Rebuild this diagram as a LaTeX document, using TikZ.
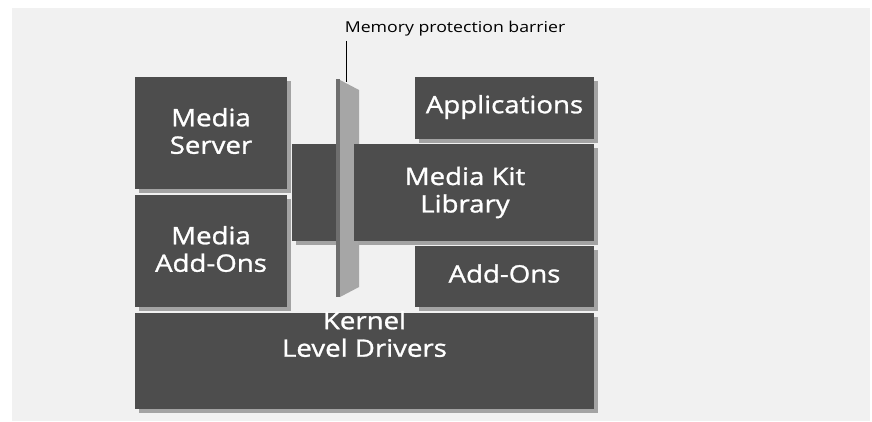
\documentclass[tikz,border=0pt]{standalone}
\usepackage{fontspec}
\setmainfont{Open Sans}
\newfontfamily\blockfont[FakeStretch=1.15, FakeBold=1.2]{Open Sans}
\newfontfamily\notefont[FakeStretch=1.18]{Open Sans}
\usetikzlibrary{shadows}
\definecolor{pagebg}{HTML}{F1F1F1}
\definecolor{boxfill}{HTML}{4D4D4D}
\definecolor{shadowgray}{HTML}{A3A3A3}
\definecolor{barrieredge}{HTML}{6E6E6E}
\definecolor{barrierface}{HTML}{A6A6A6}
\begin{document}
\begin{tikzpicture}[x=1pt,y=-1pt,
  layerbox/.style={rectangle, fill=boxfill, draw=none, inner sep=0pt,
    drop shadow={shadow xshift=4pt, shadow yshift=-4pt, fill=shadowgray, opacity=1}},
  boxtext/.style={text=white, align=center, inner sep=0pt,
    font=\blockfont\fontsize{24}{27.5}\selectfont},
  notetext/.style={text=black, inner sep=0pt, font=\notefont\fontsize{15}{18}\selectfont}]
\useasboundingbox (0,0) rectangle (872,421);
\fill[pagebg] (12,8) rectangle (870,421);

% layer blocks
\node[layerbox, minimum width=152pt, minimum height=112pt] (server)  at (211,133) {};
\node[layerbox, minimum width=152pt, minimum height=112pt] (mediaadd) at (211,251) {};
\node[layerbox, minimum width=179pt, minimum height=62pt]  (apps)    at (504.5,108) {};
\node[layerbox, minimum width=53pt,  minimum height=97pt]  (bridge)  at (318.5,192.5) {};

% memory protection barrier (panel seen at an angle)
\fill[barrieredge] (336,79) rectangle (340,297);
\fill[barrierface] (340,80) -- (359,90) -- (359,287) -- (340,297) -- cycle;
\coordinate (bartop) at (346,82);

\node[layerbox, minimum width=240pt, minimum height=97pt]  (library) at (474,192.5) {};
\node[layerbox, minimum width=179pt, minimum height=61pt]  (addons)  at (504.5,276.5) {};
\node[layerbox, minimum width=459pt, minimum height=96pt]  (kernel)  at (364.5,361) {};

% labels
\node[boxtext] (servertext)   at ([yshift=2pt]server.center)   {Media\\Server};
\node[boxtext] (mediaaddtext) at ([yshift=2pt]mediaadd.center) {Media\\Add-Ons};
\node[boxtext] (appstext)     at ([yshift=1pt]apps.center) {Applications};
\node[boxtext] (librarytext)  at ([xshift=-9pt]library.center) {Media Kit\\Library};
\node[boxtext] (addonstext)   at ([yshift=3pt]addons.center) {Add-Ons};
\node[boxtext, anchor=north] (kerneltext) at ([yshift=2pt]kernel.north) {Kernel\\Level Drivers};

% barrier callout
\node[notetext, anchor=base] (barlabel) at (455,32) {Memory protection barrier};
\draw[line width=0.9pt] (barlabel.south -| bartop) ++(0,5) -- (bartop);
\end{tikzpicture}
\end{document}
